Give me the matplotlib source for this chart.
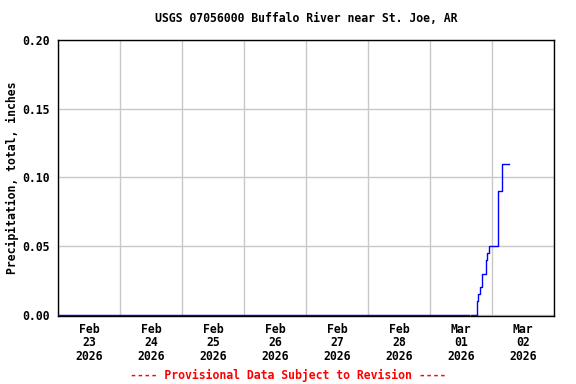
# USGS precipitation chart, Buffalo River near St. Joe

import datetime as dt
import matplotlib
matplotlib.use("Agg")
import matplotlib.pyplot as plt
import numpy as np

# readings, NaN marks the missing-data gap
times = ["2026-02-23 00:00", "2026-03-01 15:00", "2026-03-01 15:15",
         "2026-03-01 15:45", "2026-03-01 18:15", "2026-03-01 18:45",
         "2026-03-01 19:15", "2026-03-01 20:15", "2026-03-01 21:45",
         "2026-03-01 22:00", "2026-03-01 22:45", "2026-03-02 02:15",
         "2026-03-02 02:30", "2026-03-02 03:45", "2026-03-02 04:00",
         "2026-03-02 06:45"]
precip = [0.0, 0.0, np.nan,
          0.0, 0.01, 0.015,
          0.02, 0.03, 0.04,
          0.045, 0.05, 0.08,
          0.09, 0.095, 0.11,
          0.11]

day_labels = ["Feb\n23\n2026", "Feb\n24\n2026", "Feb\n25\n2026", "Feb\n26\n2026",
              "Feb\n27\n2026", "Feb\n28\n2026", "Mar\n01\n2026", "Mar\n02\n2026"]
yticks = [0.0, 0.05, 0.10, 0.15, 0.20]

t = [dt.datetime.strptime(s, "%Y-%m-%d %H:%M") for s in times]
start = dt.datetime(2026, 2, 23)
end = dt.datetime(2026, 3, 3)

font = {"family": "DejaVu Sans Mono", "weight": "bold", "size": 8.3}

fig = plt.figure(figsize=(5.76, 3.84), dpi=100)
ax = fig.add_axes([58/576, 68/384, 496/576, 276/384])

ax.plot(t, precip, color="#0000ff", lw=1, drawstyle="steps-post", zorder=3)

ax.set_xlim(start, end)
ax.set_ylim(-0.0009, 0.20)

midnights = [start + dt.timedelta(days=i) for i in range(9)]
noons = [start + dt.timedelta(days=i, hours=12) for i in range(8)]
ax.set_xticks(midnights)
ax.set_xticklabels([""] * len(midnights))
ax.set_xticks(noons, minor=True)
ax.set_xticklabels(day_labels, minor=True, linespacing=1.03, **font)
ax.tick_params(axis="x", which="both", length=0, pad=5)

ax.set_yticks(yticks)
ax.set_yticklabels(["%.2f" % v for v in yticks], **font)
ax.tick_params(axis="y", length=0, pad=6)

ax.grid(True, which="major", color="#c8c8c8", lw=1)
ax.set_axisbelow(True)
for sp in ax.spines.values():
    sp.set_color("black")
    sp.set_linewidth(1)

ax.set_ylabel("Precipitation, total, inches", labelpad=2, **font)
fig.text(306/576, 1 - 19/384, "USGS 07056000 Buffalo River near St. Joe, AR",
         ha="center", va="center", **font)
fig.text(0.5, 1 - 375/384, "---- Provisional Data Subject to Revision ----",
         ha="center", va="center", color="red", **font)

fig.savefig("out.png", dpi=100)
